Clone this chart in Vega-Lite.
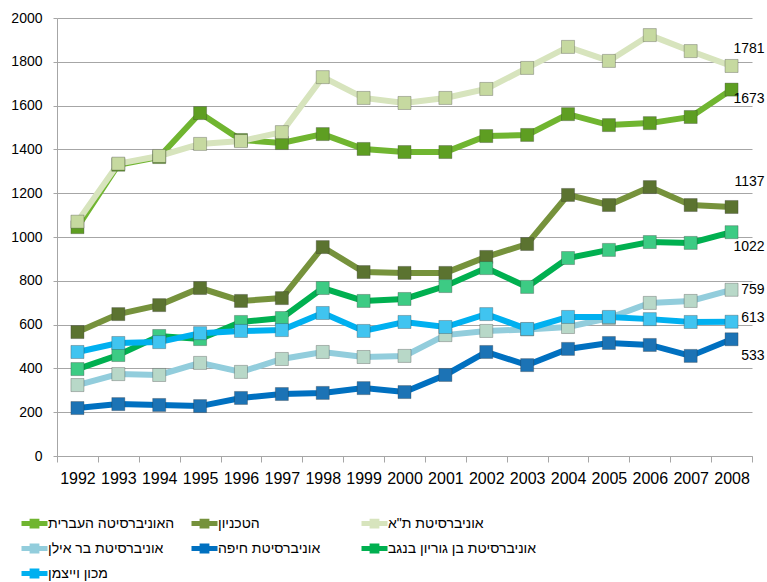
{
 "$schema": "https://vega.github.io/schema/vega-lite/v6.json",
 "width": 695,
 "height": 438,
 "autosize": "none",
 "padding": {"left": 57, "top": 18, "right": 15, "bottom": 126},
 "background": "white",
 "config": {"view": {"stroke": null}, "font": "Liberation Sans"},
 "data": {"values": [
  {"u":"האוניברסיטה העברית","y":1992,"v":1045},{"u":"האוניברסיטה העברית","y":1993,"v":1330},{"u":"האוניברסיטה העברית","y":1994,"v":1365},{"u":"האוניברסיטה העברית","y":1995,"v":1566},{"u":"האוניברסיטה העברית","y":1996,"v":1443},{"u":"האוניברסיטה העברית","y":1997,"v":1429},{"u":"האוניברסיטה העברית","y":1998,"v":1470},{"u":"האוניברסיטה העברית","y":1999,"v":1402},{"u":"האוניברסיטה העברית","y":2000,"v":1388},{"u":"האוניברסיטה העברית","y":2001,"v":1388},{"u":"האוניברסיטה העברית","y":2002,"v":1461},{"u":"האוניברסיטה העברית","y":2003,"v":1466},{"u":"האוניברסיטה העברית","y":2004,"v":1561},{"u":"האוניברסיטה העברית","y":2005,"v":1511},{"u":"האוניברסיטה העברית","y":2006,"v":1520},{"u":"האוניברסיטה העברית","y":2007,"v":1548},{"u":"האוניברסיטה העברית","y":2008,"v":1673},
  {"u":"הטכניון","y":1992,"v":566},{"u":"הטכניון","y":1993,"v":648},{"u":"הטכניון","y":1994,"v":689},{"u":"הטכניון","y":1995,"v":767},{"u":"הטכניון","y":1996,"v":708},{"u":"הטכניון","y":1997,"v":721},{"u":"הטכניון","y":1998,"v":954},{"u":"הטכניון","y":1999,"v":840},{"u":"הטכניון","y":2000,"v":836},{"u":"הטכניון","y":2001,"v":836},{"u":"הטכניון","y":2002,"v":909},{"u":"הטכניון","y":2003,"v":968},{"u":"הטכניון","y":2004,"v":1192},{"u":"הטכניון","y":2005,"v":1146},{"u":"הטכניון","y":2006,"v":1228},{"u":"הטכניון","y":2007,"v":1146},{"u":"הטכניון","y":2008,"v":1137},
  {"u":"אוניברסיטת ת\"א","y":1992,"v":1070},{"u":"אוניברסיטת ת\"א","y":1993,"v":1335},{"u":"אוניברסיטת ת\"א","y":1994,"v":1370},{"u":"אוניברסיטת ת\"א","y":1995,"v":1425},{"u":"אוניברסיטת ת\"א","y":1996,"v":1438},{"u":"אוניברסיטת ת\"א","y":1997,"v":1479},{"u":"אוניברסיטת ת\"א","y":1998,"v":1730},{"u":"אוניברסיטת ת\"א","y":1999,"v":1635},{"u":"אוניברסיטת ת\"א","y":2000,"v":1612},{"u":"אוניברסיטת ת\"א","y":2001,"v":1635},{"u":"אוניברסיטת ת\"א","y":2002,"v":1676},{"u":"אוניברסיטת ת\"א","y":2003,"v":1772},{"u":"אוניברסיטת ת\"א","y":2004,"v":1868},{"u":"אוניברסיטת ת\"א","y":2005,"v":1804},{"u":"אוניברסיטת ת\"א","y":2006,"v":1922},{"u":"אוניברסיטת ת\"א","y":2007,"v":1849},{"u":"אוניברסיטת ת\"א","y":2008,"v":1781},
  {"u":"אוניברסיטת בר אילן","y":1992,"v":324},{"u":"אוניברסיטת בר אילן","y":1993,"v":374},{"u":"אוניברסיטת בר אילן","y":1994,"v":370},{"u":"אוניברסיטת בר אילן","y":1995,"v":425},{"u":"אוניברסיטת בר אילן","y":1996,"v":384},{"u":"אוניברסיטת בר אילן","y":1997,"v":443},{"u":"אוניברסיטת בר אילן","y":1998,"v":475},{"u":"אוניברסיטת בר אילן","y":1999,"v":452},{"u":"אוניברסיטת בר אילן","y":2000,"v":457},{"u":"אוניברסיטת בר אילן","y":2001,"v":552},{"u":"אוניברסיטת בר אילן","y":2002,"v":571},{"u":"אוניברסיטת בר אילן","y":2003,"v":578},{"u":"אוניברסיטת בר אילן","y":2004,"v":589},{"u":"אוניברסיטת בר אילן","y":2005,"v":630},{"u":"אוניברסיטת בר אילן","y":2006,"v":699},{"u":"אוניברסיטת בר אילן","y":2007,"v":708},{"u":"אוניברסיטת בר אילן","y":2008,"v":759},
  {"u":"אוניברסיטת חיפה","y":1992,"v":219},{"u":"אוניברסיטת חיפה","y":1993,"v":237},{"u":"אוניברסיטת חיפה","y":1994,"v":233},{"u":"אוניברסיטת חיפה","y":1995,"v":228},{"u":"אוניברסיטת חיפה","y":1996,"v":265},{"u":"אוניברסיטת חיפה","y":1997,"v":283},{"u":"אוניברסיטת חיפה","y":1998,"v":288},{"u":"אוניברסיטת חיפה","y":1999,"v":310},{"u":"אוניברסיטת חיפה","y":2000,"v":292},{"u":"אוניברסיטת חיפה","y":2001,"v":370},{"u":"אוניברסיטת חיפה","y":2002,"v":475},{"u":"אוניברסיטת חיפה","y":2003,"v":415},{"u":"אוניברסיטת חיפה","y":2004,"v":489},{"u":"אוניברסיטת חיפה","y":2005,"v":516},{"u":"אוניברסיטת חיפה","y":2006,"v":507},{"u":"אוניברסיטת חיפה","y":2007,"v":457},{"u":"אוניברסיטת חיפה","y":2008,"v":533},
  {"u":"אוניברסיטת בן גוריון בנגב","y":1992,"v":397},{"u":"אוניברסיטת בן גוריון בנגב","y":1993,"v":461},{"u":"אוניברסיטת בן גוריון בנגב","y":1994,"v":548},{"u":"אוניברסיטת בן גוריון בנגב","y":1995,"v":534},{"u":"אוניברסיטת בן גוריון בנגב","y":1996,"v":612},{"u":"אוניברסיטת בן גוריון בנגב","y":1997,"v":630},{"u":"אוניברסיטת בן גוריון בנגב","y":1998,"v":767},{"u":"אוניברסיטת בן גוריון בנגב","y":1999,"v":708},{"u":"אוניברסיטת בן גוריון בנגב","y":2000,"v":717},{"u":"אוניברסיטת בן גוריון בנגב","y":2001,"v":776},{"u":"אוניברסיטת בן גוריון בנגב","y":2002,"v":858},{"u":"אוניברסיטת בן גוריון בנגב","y":2003,"v":772},{"u":"אוניברסיטת בן גוריון בנגב","y":2004,"v":904},{"u":"אוניברסיטת בן גוריון בנגב","y":2005,"v":941},{"u":"אוניברסיטת בן גוריון בנגב","y":2006,"v":977},{"u":"אוניברסיטת בן גוריון בנגב","y":2007,"v":973},{"u":"אוניברסיטת בן גוריון בנגב","y":2008,"v":1022},
  {"u":"מכון וייצמן","y":1992,"v":475},{"u":"מכון וייצמן","y":1993,"v":516},{"u":"מכון וייצמן","y":1994,"v":520},{"u":"מכון וייצמן","y":1995,"v":561},{"u":"מכון וייצמן","y":1996,"v":571},{"u":"מכון וייצמן","y":1997,"v":575},{"u":"מכון וייצמן","y":1998,"v":653},{"u":"מכון וייצמן","y":1999,"v":571},{"u":"מכון וייצמן","y":2000,"v":612},{"u":"מכון וייצמן","y":2001,"v":589},{"u":"מכון וייצמן","y":2002,"v":648},{"u":"מכון וייצמן","y":2003,"v":580},{"u":"מכון וייצמן","y":2004,"v":635},{"u":"מכון וייצמן","y":2005,"v":635},{"u":"מכון וייצמן","y":2006,"v":625},{"u":"מכון וייצמן","y":2007,"v":612},{"u":"מכון וייצמן","y":2008,"v":613}
 ]},
 "encoding": {
  "x": {"field": "y", "type": "ordinal", "bandPosition": 0.5,
        "scale": {"type": "band", "paddingInner": 0, "paddingOuter": 0},
        "axis": {"title": null, "labelAngle": 0, "labelFontSize": 16, "labelColor": "#000", "labelPadding": 8,
                 "tickBand": "extent", "tickSize": 6, "tickColor": "#A6A6A6", "domainColor": "#A6A6A6", "grid": false}},
  "y": {"field": "v", "type": "quantitative",
        "scale": {"domain": [0, 2000], "nice": false},
        "axis": {"title": null, "format": "d", "values": [0,200,400,600,800,1000,1200,1400,1600,1800,2000], "labelFontSize": 14, "labelColor": "#000",
                 "labelPadding": 11, "tickSize": 4, "tickColor": "#A6A6A6", "domainColor": "#A6A6A6", "gridColor": "#A6A6A6", "grid": true}}
 },
 "layer": [
  {"mark": {"type": "line", "strokeWidth": 6},
   "encoding": {
    "color": {"field": "u", "type": "nominal",
      "scale": {"domain": ["האוניברסיטה העברית","הטכניון","אוניברסיטת ת\"א","אוניברסיטת בר אילן","אוניברסיטת חיפה","אוניברסיטת בן גוריון בנגב","מכון וייצמן"],
                "range": ["#70B530","#76923C","#D7E4BD","#92CDDC","#0070C0","#00B050","#00B0F0"]},
      "legend": {"title": null, "orient": "none", "direction": "horizontal", "legendX": -30, "legendY": 498, "columns": 3, "gridAlign": "all",
                 "columnPadding": -16, "rowPadding": 0, "padding": 0,
                 "symbolType": "M-2.6,0 H2.6 M-0.48,-0.48 H0.48 V0.48 H-0.48 Z", "symbolSize": 100, "symbolStrokeWidth": 5,
                 "labelFontSize": 14, "labelColor": "#000", "labelOffset": 6, "labelLimit": 300}}
   }},
  {"mark": {"type": "point", "shape": "square", "filled": true, "size": 170, "opacity": 1, "stroke": "#333", "strokeOpacity": 0.3, "strokeWidth": 1},
   "encoding": {
    "fill": {"field": "u", "type": "nominal",
      "scale": {"domain": ["האוניברסיטה העברית","הטכניון","אוניברסיטת ת\"א","אוניברסיטת בר אילן","אוניברסיטת חיפה","אוניברסיטת בן גוריון בנגב","מכון וייצמן"],
                "range": ["#5E9E22","#5B7330","#C6D9A0","#B8D8C8","#1C73B5","#3DCB84","#40C4F0"]},
      "legend": null}
   }},
  {"transform": [{"filter": {"and": [{"field": "y", "equal": 2008}, {"field": "u", "equal": "אוניברסיטת ת\"א"}]}}],
   "mark": {"type": "text", "align": "right", "baseline": "middle", "dx": 33, "dy": -17, "fontSize": 14, "color": "#000"},
   "encoding": {"text": {"field": "v", "type": "quantitative"}}},
  {"transform": [{"filter": {"and": [{"field": "y", "equal": 2008}, {"field": "u", "equal": "האוניברסיטה העברית"}]}}],
   "mark": {"type": "text", "align": "right", "baseline": "middle", "dx": 33, "dy": 9, "fontSize": 14, "color": "#000"},
   "encoding": {"text": {"field": "v", "type": "quantitative"}}},
  {"transform": [{"filter": {"and": [{"field": "y", "equal": 2008}, {"field": "u", "equal": "הטכניון"}]}}],
   "mark": {"type": "text", "align": "right", "baseline": "middle", "dx": 33, "dy": -25, "fontSize": 14, "color": "#000"},
   "encoding": {"text": {"field": "v", "type": "quantitative"}}},
  {"transform": [{"filter": {"and": [{"field": "y", "equal": 2008}, {"field": "u", "equal": "אוניברסיטת בן גוריון בנגב"}]}}],
   "mark": {"type": "text", "align": "right", "baseline": "middle", "dx": 33, "dy": 15, "fontSize": 14, "color": "#000"},
   "encoding": {"text": {"field": "v", "type": "quantitative"}}},
  {"transform": [{"filter": {"and": [{"field": "y", "equal": 2008}, {"field": "u", "equal": "אוניברסיטת בר אילן"}]}}],
   "mark": {"type": "text", "align": "right", "baseline": "middle", "dx": 33, "dy": 0, "fontSize": 14, "color": "#000"},
   "encoding": {"text": {"field": "v", "type": "quantitative"}}},
  {"transform": [{"filter": {"and": [{"field": "y", "equal": 2008}, {"field": "u", "equal": "מכון וייצמן"}]}}],
   "mark": {"type": "text", "align": "right", "baseline": "middle", "dx": 33, "dy": -4, "fontSize": 14, "color": "#000"},
   "encoding": {"text": {"field": "v", "type": "quantitative"}}},
  {"transform": [{"filter": {"and": [{"field": "y", "equal": 2008}, {"field": "u", "equal": "אוניברסיטת חיפה"}]}}],
   "mark": {"type": "text", "align": "right", "baseline": "middle", "dx": 33, "dy": 17, "fontSize": 14, "color": "#000"},
   "encoding": {"text": {"field": "v", "type": "quantitative"}}}
 ]
}
